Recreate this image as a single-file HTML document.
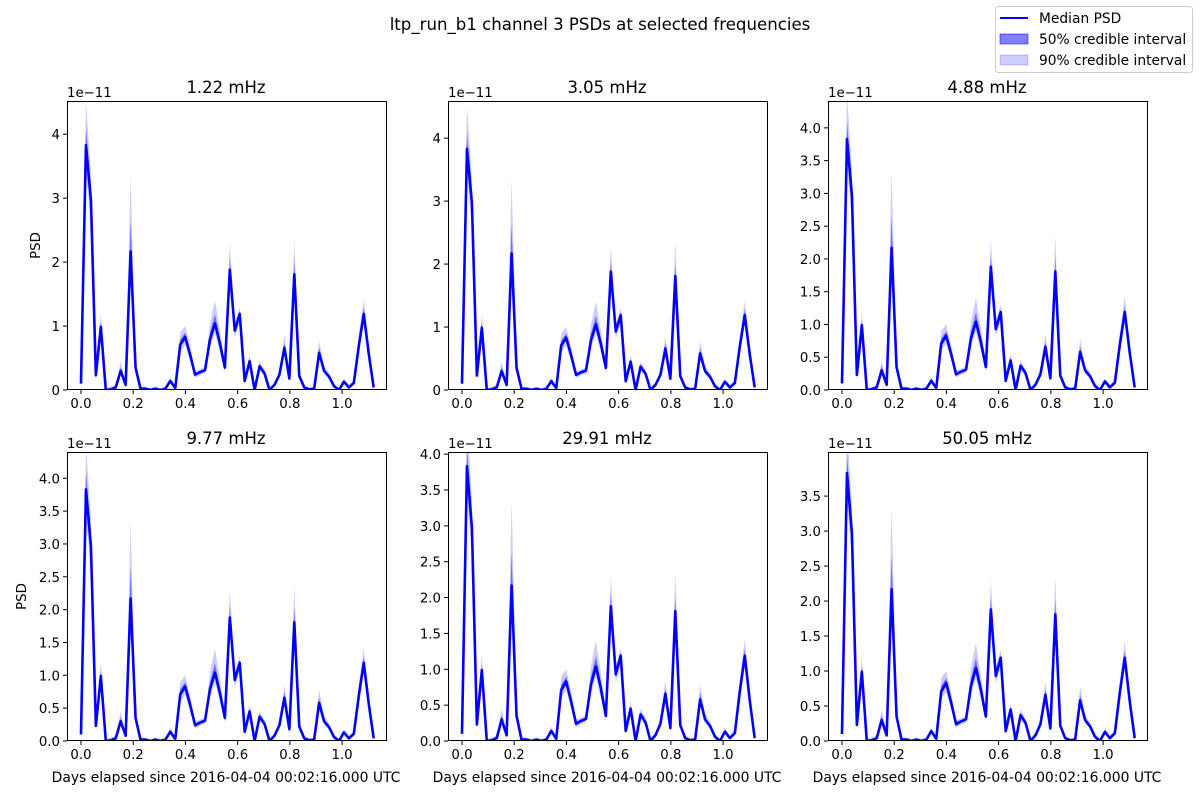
<!DOCTYPE html>
<html><head><meta charset="utf-8"><style>
html,body{margin:0;padding:0;background:#fff;}
svg{display:block;font-family:"DejaVu Sans","Liberation Sans",sans-serif;}
</style></head><body>
<svg id="fig" width="1200" height="800" viewBox="0 0 1200 800" xmlns="http://www.w3.org/2000/svg">
<rect width="1200" height="800" fill="#fff"/>
<text x="600" y="30" text-anchor="middle" font-size="16.6">ltp_run_b1 channel 3 PSDs at selected frequencies</text>
<g>
<rect x="995.5" y="6.5" width="197" height="66" rx="3" fill="#fff" stroke="#ccc"/>
<line x1="1000" y1="18" x2="1028" y2="18" stroke="#0000ff" stroke-width="2"/>
<text x="1039" y="23" font-size="13.8">Median PSD</text>
<rect x="1000" y="34" width="28" height="10" fill="#0000ff" fill-opacity="0.5" stroke="#0000ff" stroke-opacity="0.5"/>
<text x="1039" y="44" font-size="13.8">50% credible interval</text>
<rect x="1000" y="55" width="28" height="10" fill="#0000ff" fill-opacity="0.2" stroke="#0000ff" stroke-opacity="0.2"/>
<text x="1039" y="65" font-size="13.8">90% credible interval</text>
</g>
</svg>
<script>
const days = [0.000,0.019,0.038,0.057,0.076,0.095,0.114,0.133,0.152,0.171,0.190,0.209,0.228,0.247,0.266,0.285,0.304,0.323,0.342,0.361,0.380,0.399,0.418,0.437,0.456,0.475,0.494,0.513,0.532,0.551,0.570,0.589,0.608,0.627,0.646,0.665,0.684,0.703,0.722,0.741,0.760,0.779,0.798,0.817,0.836,0.855,0.874,0.893,0.912,0.931,0.950,0.969,0.988,1.007,1.026,1.045,1.064,1.083,1.102,1.121];
const median = [0.10,3.83,2.97,0.23,0.99,0.0,0.01,0.04,0.30,0.08,2.17,0.35,0.02,0.02,0.0,0.02,0.0,0.02,0.14,0.03,0.71,0.83,0.55,0.24,0.28,0.31,0.79,1.04,0.73,0.35,1.88,0.93,1.19,0.14,0.45,0.0,0.37,0.26,0.0,0.08,0.24,0.66,0.18,1.81,0.22,0.04,0.01,0.02,0.58,0.30,0.21,0.06,0.0,0.13,0.04,0.11,0.69,1.19,0.57,0.04];
const hi90 = [0.15,4.5,3.4,0.3,1.2,0.03,0.05,0.08,0.45,0.12,3.35,0.45,0.05,0.05,0.03,0.05,0.03,0.05,0.2,0.06,0.9,1.0,0.7,0.3,0.33,0.36,1.05,1.4,0.95,0.45,2.3,1.05,1.3,0.25,0.55,0.05,0.45,0.32,0.04,0.12,0.3,0.85,0.25,2.35,0.27,0.07,0.04,0.05,0.78,0.38,0.27,0.1,0.03,0.18,0.08,0.16,0.85,1.42,0.7,0.08];
const lo90 = [0.07,3.4,2.6,0.18,0.85,0.0,0.0,0.02,0.24,0.05,1.95,0.28,0.0,0.0,0.0,0.0,0.0,0.0,0.1,0.01,0.6,0.7,0.45,0.19,0.23,0.26,0.66,0.88,0.6,0.28,1.7,0.82,1.05,0.1,0.37,0.0,0.3,0.21,0.0,0.05,0.19,0.56,0.13,1.65,0.17,0.02,0.0,0.0,0.5,0.25,0.17,0.03,0.0,0.1,0.02,0.08,0.58,1.02,0.48,0.02];
const panelTitles = ["1.22 mHz","3.05 mHz","4.88 mHz","9.77 mHz","29.91 mHz","50.05 mHz"];
const panelYmax = [4.52,4.59,4.41,4.40,4.03,4.13];
const panelTicks = [[0,1,2,3,4],[0,1,2,3,4],[0,0.5,1,1.5,2,2.5,3,3.5,4],[0,0.5,1,1.5,2,2.5,3,3.5,4],[0,0.5,1,1.5,2,2.5,3,3.5,4],[0,0.5,1,1.5,2,2.5,3,3.5]];
const xTicks = [0,0.2,0.4,0.6,0.8,1.0];

const NS="http://www.w3.org/2000/svg";
const svg=document.getElementById('fig');
function mk(tag,attrs,parent){const e=document.createElementNS(NS,tag);for(const k in attrs)e.setAttribute(k,attrs[k]);(parent||svg).appendChild(e);return e;}
const lefts=[67,448,828], tops=[101,452], W=320, H=289, XMIN=-0.0536, XMAX=1.172;
panelTitles.forEach((t,p)=>{
  const L=lefts[p%3], T=tops[Math.floor(p/3)], ymax=panelYmax[p];
  const g=mk('g',{});
  
  
  const xs=v=>L+(v-XMIN)/(XMAX-XMIN)*W;
  const ys=v=>T+H-(v/ymax)*H;
  const hi50=median.map((m,i)=>m+(hi90[i]-m)*0.4), lo50=median.map((m,i)=>m-(m-lo90[i])*0.4);
  const clip=mk('clipPath',{id:'c'+p},g); mk('rect',{x:L,y:T,width:W,height:H},clip);
  const inner=mk('g',{'clip-path':'url(#c'+p+')'},g);
  
  
  const bandIn=(hi,lo,op,name)=>{
    let d='M'+days.map((x,i)=>xs(x).toFixed(2)+','+ys(hi[i]).toFixed(2)).join('L');
    for(let i=days.length-1;i>=0;i--)d+='L'+xs(days[i]).toFixed(2)+','+ys(lo[i]).toFixed(2);
    const e=mk('path',{d:d+'Z',fill:'#0000ff','fill-opacity':op},inner);
    
    
  };
  bandIn(hi90,lo90,0.2,'band-90');
  bandIn(hi50,lo50,0.45,'band-50');
  const ln=mk('polyline',{points:days.map((x,i)=>xs(x).toFixed(2)+','+ys(median[i]).toFixed(2)).join(' '),fill:'none',stroke:'#0000ff','stroke-width':2.6,'stroke-linejoin':'round'},inner);
  
  
  const fr=mk('rect',{x:L+0.5,y:T+0.5,width:W-1,height:H-1,fill:'none',stroke:'#000','stroke-width':1},g);
  
  
  xTicks.forEach(v=>{
    const x=xs(v);
    mk('line',{x1:x,y1:T+H,x2:x,y2:T+H+4,stroke:'#000'},g);
    const tx=mk('text',{x:x,y:T+H+18,'font-size':13.3,'text-anchor':'middle'},g);
    tx.textContent=v.toFixed(1);
    
    
  });
  panelTicks[p].forEach(v=>{
    const y=ys(v);
    mk('line',{x1:L-4,y1:y,x2:L,y2:y,stroke:'#000'},g);
    const ty=mk('text',{x:L-7,y:y+5,'font-size':13.3,'text-anchor':'end'},g);
    ty.textContent=(panelTicks[p][1]===1)?String(v):v.toFixed(1);
    
    
  });
  const off=mk('text',{x:L,y:T-4,'font-size':13.3},g);
  off.textContent='1e\u221211';
  
  
  const ti=mk('text',{x:L+W/2-1,y:T-8,'font-size':16.5,'text-anchor':'middle'},g);
  ti.textContent=t;
  
  
  if(p%3===0){
    const lx=(p===0)?40:26;
    const yl=mk('text',{x:0,y:0,'font-size':13.3,'text-anchor':'middle',transform:'translate('+lx+','+(T+H/2)+') rotate(-90)'},g);
    yl.textContent='PSD';
    
    
  }
  if(p>=3){
    const xl=mk('text',{x:L+W/2-1,y:782,'font-size':13.9,'text-anchor':'middle'},g);
    xl.textContent='Days elapsed since 2016-04-04 00:02:16.000 UTC';
    
    
  }
});
</script>
</body></html>
